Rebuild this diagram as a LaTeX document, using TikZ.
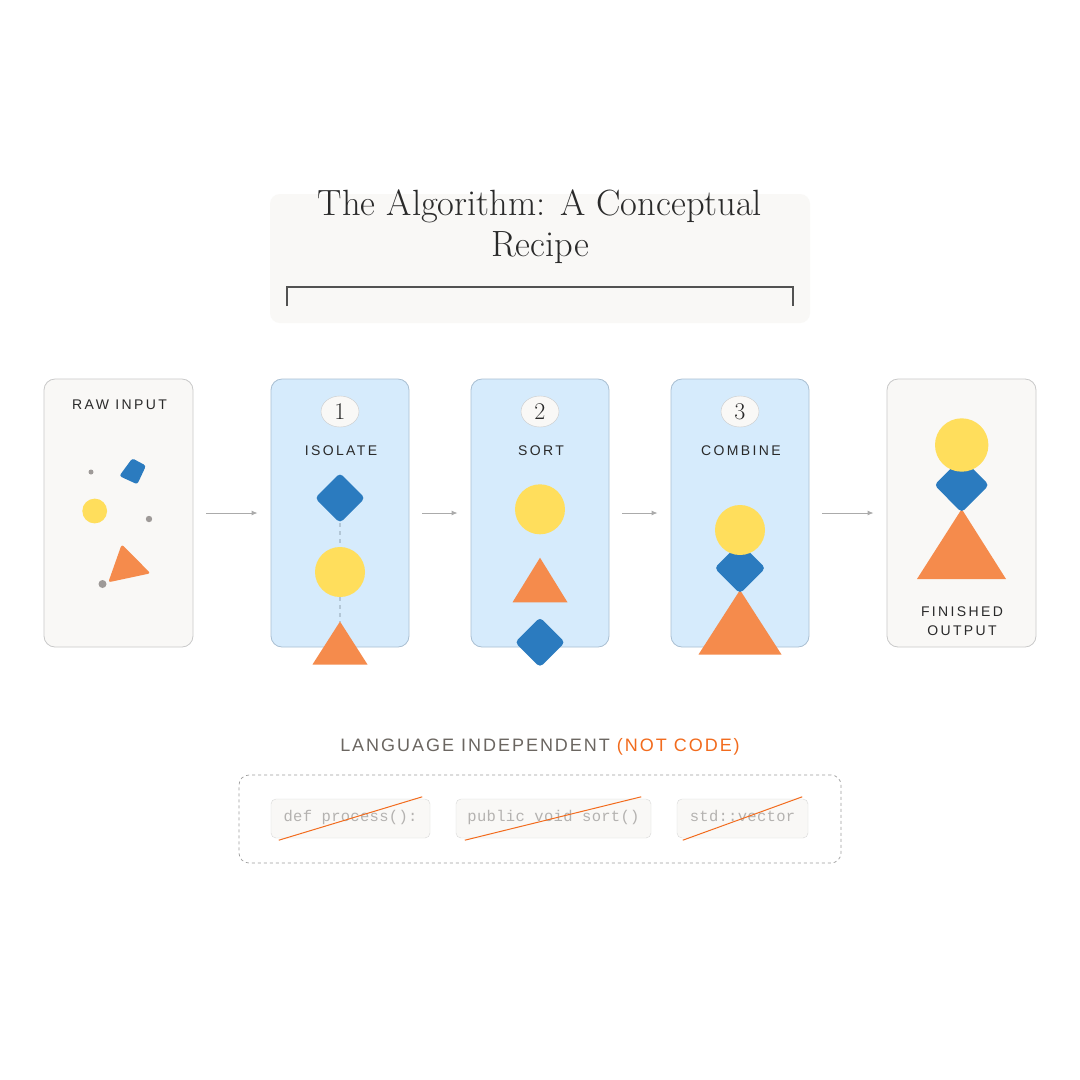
\documentclass[tikz,border=0pt]{standalone}
\usepackage{fontspec}
\setsansfont{Liberation Sans}
\setmonofont{Liberation Mono}
\usetikzlibrary{shapes.geometric,arrows.meta}
\definecolor{cblue}{HTML}{2B7BBF}
\definecolor{cyellow}{HTML}{FFDE5C}
\definecolor{corange}{HTML}{F58B4C}
\definecolor{pblue}{HTML}{D6EBFC}
\definecolor{pblueb}{HTML}{A9BFD2}
\definecolor{pgray}{HTML}{F9F8F6}
\definecolor{pgrayb}{HTML}{C9C9C9}
\definecolor{dotgray}{HTML}{9E9A98}
\definecolor{txt}{HTML}{2A2A2A}
\definecolor{subtxt}{HTML}{6B6661}
\definecolor{notcode}{HTML}{F26B1D}
\definecolor{arrowgray}{HTML}{ABABAB}
\definecolor{dashblue}{HTML}{B3C7D7}
\definecolor{codetxt}{HTML}{B4B2B0}
\tikzset{
  panel/.style={draw=pgrayb, fill=pgray, rounded corners=11pt, minimum width=149pt, minimum height=268pt, line width=0.8pt, inner sep=0},
  steppanel/.style={draw=pblueb, fill=pblue, rounded corners=11pt, minimum width=138pt, minimum height=268pt, line width=0.8pt, inner sep=0},
  badge/.style={ellipse, draw=pgrayb, fill=pgray, minimum width=38pt, minimum height=31pt, inner sep=0, font=\fontsize{24}{24}\selectfont, text=txt},
  lbl/.style={font=\sffamily\fontsize{14}{19.5}\selectfont\addfontfeatures{LetterSpace=17}, text=txt, align=center, inner sep=0},
  flow/.style={draw=arrowgray, line width=1pt, -{Latex[length=6pt,width=5pt]}, shorten <=13pt, shorten >=13pt},
  codebox/.style={draw=black!15, fill=pgray, rounded corners=5pt, minimum height=39pt, inner sep=0, text height=9pt, text depth=3pt, font=\ttfamily\fontsize{15.5}{16}\selectfont\addfontfeatures{LetterSpace=2}, text=codetxt},
  strike/.style={draw=notcode, line width=1pt},
  link/.style={draw=dashblue, line width=2.5pt, dash pattern=on 4pt off 4pt},
}
\begin{document}
\begin{tikzpicture}[x=1pt,y=-1pt]
\useasboundingbox[fill=white] (0,0) rectangle (1080,1080);

% title box
\node[fill=pgray, rounded corners=10pt, minimum width=540pt, minimum height=129pt, inner sep=0] (titlebox) at (540,258.5) {};
\node[font=\fontsize{36.5}{41}\selectfont, text=txt, align=center, inner sep=0] (title) at (540,227) {The Algorithm: A Conceptual\\Recipe};
\draw[line width=1.5pt, draw=black!68] (287,306) -- (287,287) -- (793,287) -- (793,306);

% panels
\node[panel] (raw) at (118.5,513) {};
\node[steppanel] (s1) at (340,513) {};
\node[steppanel] (s2) at (540,513) {};
\node[steppanel] (s3) at (740,513) {};
\node[panel] (out) at (961.5,513) {};

\draw[flow] (raw.east) -- (s1.west);
\draw[flow] (s1.east) -- (s2.west);
\draw[flow] (s2.east) -- (s3.west);
\draw[flow] (s3.east) -- (out.west);

% labels
\node[lbl] (rawl) at (119.5,404.5) {RAW INPUT};
\node[badge] (b1) at (340,411.5) {1};
\node[badge] (b2) at (540,411.5) {2};
\node[badge] (b3) at (740,411.5) {3};
\node[lbl] (l1) at (341,450.5) {ISOLATE};
\node[lbl] (l2) at (541,450.5) {SORT};
\node[lbl] (l3) at (741,450.5) {COMBINE};
\node[lbl] (outl) at (962,621) {FINISHED\\OUTPUT};

% raw input scatter
\fill[dotgray] (91,472) circle (2.5);
\fill[dotgray] (149,519) circle (3.2);
\fill[cblue, rounded corners=2.5pt] (132.3,458.3) -- (146,465.7) -- (137.3,484.3) -- (119.3,476) -- cycle;
\fill[cyellow] (94.7,511) circle (12.4);
\fill[corange, rounded corners=2.5pt] (121.7,544.3) -- (150.5,573.3) -- (108.3,582.3) -- cycle;
\fill[dotgray] (102.5,584) circle (4);

% step 1: isolate
\draw[link] (340,523) -- (340,547);
\draw[link] (340,597) -- (340,622);
\fill[cblue, rounded corners=4pt] (340,473) -- (365,498) -- (340,523) -- (315,498) -- cycle;
\fill[cyellow] (340,572) circle (25);
\fill[corange] (340,621.5) -- (367.5,664.5) -- (312.5,664.5) -- cycle;

% step 2: sort
\fill[cyellow] (540,509.3) circle (25);
\fill[corange] (540,557.7) -- (567.5,602.3) -- (512.5,602.3) -- cycle;
\fill[cblue, rounded corners=4pt] (540,617.3) -- (565,642.3) -- (540,667.3) -- (515,642.3) -- cycle;

% step 3: combine
\fill[corange] (740,590) -- (781.5,654.5) -- (698.5,654.5) -- cycle;
\fill[cblue, rounded corners=4pt] (740,542.5) -- (765.5,568) -- (740,593.5) -- (714.5,568) -- cycle;
\fill[cyellow] (740,530) circle (25);

% output
\fill[corange] (961.7,509) -- (1006,579) -- (917,579) -- cycle;
\fill[cblue, rounded corners=4pt] (961.7,457.5) -- (989,485) -- (961.7,512.5) -- (934.3,485) -- cycle;
\fill[cyellow] (961.7,445) circle (26.7);

% bottom
\node[font=\sffamily\fontsize{18}{18}\selectfont\addfontfeatures{LetterSpace=11}, text=subtxt, inner sep=0] (lang) at (540,746.5) {LANGUAGE INDEPENDENT \textcolor{notcode}{(NOT CODE)}};
\node[draw=black!38, dashed, rounded corners=10pt, minimum width=602pt, minimum height=88pt, line width=0.7pt, inner sep=0] (codes) at (540,819) {};
\node[codebox, minimum width=159pt] (c1) at (350.5,818.5) {def process():};
\node[codebox, minimum width=195pt] (c2) at (553.5,818.5) {public void sort()};
\node[codebox, minimum width=131pt] (c3) at (742.5,818.5) {std::vector};
\draw[strike] ([shift={(8pt,-2pt)}]c1.south west) -- ([shift={(-8pt,2pt)}]c1.north east);
\draw[strike] ([shift={(9pt,-2pt)}]c2.south west) -- ([shift={(-10pt,2pt)}]c2.north east);
\draw[strike] ([shift={(6pt,-2pt)}]c3.south west) -- ([shift={(-6pt,2pt)}]c3.north east);
\end{tikzpicture}
\end{document}
